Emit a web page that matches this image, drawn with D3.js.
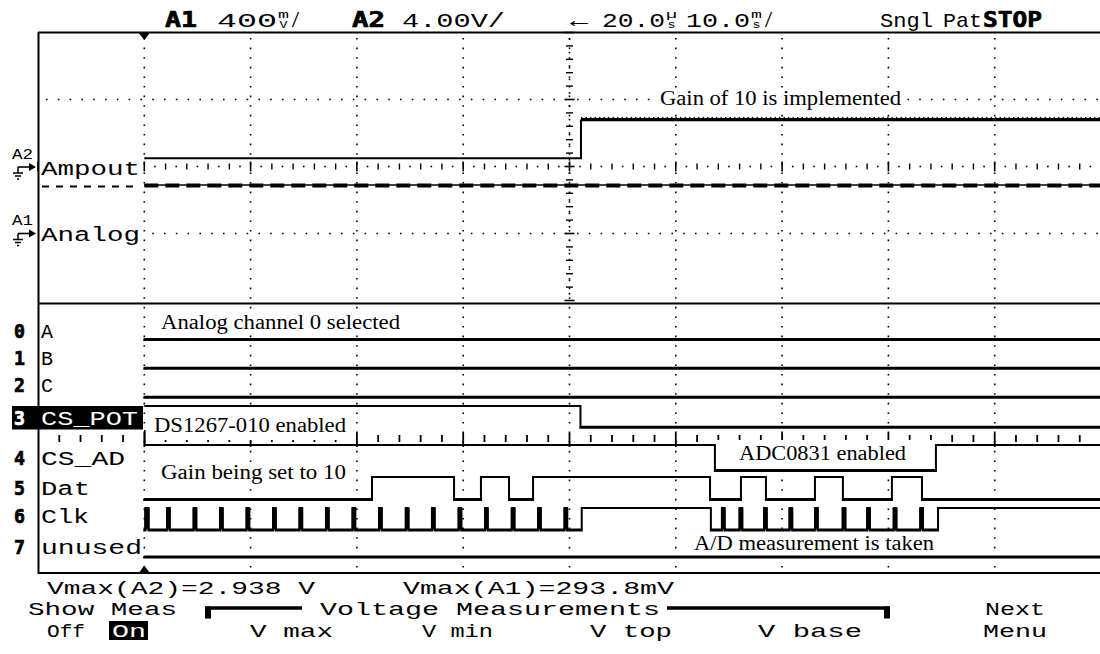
<!DOCTYPE html>
<html><head><meta charset="utf-8">
<script src="https://cdn.jsdelivr.net/npm/d3@7"></script>
<style>body{margin:0;background:#fff}svg{display:block}</style>
</head><body>
<svg id="c" width="1100" height="654"></svg>
<script>
// ---------------- data ----------------
const headerBold = ["A1", "A2", "STOP"];
const headerPlain = ["400", "/", "4.00V/", "\u2190", "20.0", "10.0", "/", "Sngl", "Pat"];
const headerUnits = [["m", "V"], ["\u00b5", "s"], ["m", "s"]];
const analogIds = ["A2", "A1"];
const analogNames = ["Ampout", "Analog"];
// analog traces (time in ms from trigger, volts)
const a2Time = [0, 41.08, 41.08, 90];
const a2Volt = [0.5, 0.5, 2.8, 2.8];
const a1Time = [0, 90];
const a1Volt = [0.29, 0.29];
// logic channels
const channelNums = ["0", "1", "2", "3", "4", "5", "6", "7"];
const channelNames = ["A", "B", "C", "CS_POT", "CS_AD", "Dat", "Clk", "unused"];
const channelStart = [0, 0, 0, 1, 1, 0, 0, 0];
const csPotEdges = [41.03];
const csAdEdges = [53.68, 74.47];
const datEdges = [21.42, 29.14, 31.67, 34.31, 36.57, 53.22, 56.13, 58.48, 63.09, 65.72, 70.33, 73.16];
const clkEdges = [0.10, 0.40, 2.14, 2.39, 4.64, 4.89, 7.12, 7.37, 9.62, 9.87, 12.11, 12.36,
  14.60, 14.85, 17.09, 17.34, 19.59, 19.84, 22.08, 22.33, 24.60, 24.85, 27.06, 27.31,
  29.57, 29.82, 32.05, 32.30, 34.57, 34.82, 37.04, 37.29, 39.53, 39.78, 41.15,
  53.30, 54.34, 54.59, 56.00, 56.25, 58.30, 58.55, 60.70, 60.95, 63.10, 63.35,
  65.70, 65.95, 68.00, 68.25, 70.50, 70.75, 73.00, 73.25, 74.67];
const channelEdges = [[], [], [], csPotEdges, csAdEdges, datEdges, clkEdges, []];
const annotations = ["Gain of 10 is implemented", "Analog channel 0 selected", "DS1267-010 enabled",
  "Gain being set to 10", "ADC0831 enabled", "A/D measurement is taken"];
const measurements = ["Vmax(A2)=2.938 V", "Vmax(A1)=293.8mV"];
const softTop = ["Show Meas", "Voltage Measurements", "Next"];
const softBottom = ["Off", "On", "V max", "V min", "V top", "V base", "Menu"];

// ---------------- layout ----------------
const MONO = "Liberation Mono, DejaVu Sans Mono, monospace";
const MONOB = "DejaVu Sans Mono, Liberation Mono, monospace";
const SERIF = "Liberation Serif, Times New Roman, serif";
const headerBoldPos = [[165, 197], [352, 385], [983, 1042]];
const headerPlainPos = [[217, 277], [291, 300], [402, 505], [570, 588], [602, 665], [686, 750], [764, 773], [880, 933], [943, 982]];
const headerUnitPos = [278, 666, 751];
const rowLow = [339, 367.7, 396.7, 426.7, 470, 499, 529.5, 556.5];
const rowHigh = [317, 345.7, 374.7, 406, 445, 477, 508, 534.5];
const rowLabelBase = [338, 365, 392, 425, 465, 495, 523, 554];
const rowNameEnd = [53, 53, 53, 138, 125, 90, 89, 142];
const annLayout = [ // x0,x1,baseline, bg x0,x1,y0,y1
  [660, 901, 105, 656, 905, 90, 110],
  [161, 400, 329, 157, 404, 312, 334],
  [154, 346, 432, 146, 349, 408, 440],
  [161, 346, 479, 157, 350, 463, 485],
  [739, 906, 460, 717, 934, 440, 468],
  [694, 934, 550, 690, 938, 534, 554]];
const measPos = [[47, 315], [403, 674]];
const softTopPos = [[28, 177], [320, 660], [985, 1045]];
const softBottomPos = [[47, 85], [112, 146], [250, 333], [422, 493], [590, 672], [758, 862], [983, 1047]];
const bottomBase = [594, 615, 637];

// ---------------- scales ----------------
const svg = d3.select("#c");
const x = d3.scaleLinear().domain([-10, 90]).range([38, 1101]);      // 10 ms / div
const div = d3.scaleLinear().domain([-2, 2]).range([300.5, 32.5]);   // analog divisions
const yA2 = d3.scaleLinear().domain([-8, 8]).range([300.5, 32.5]);   // 4.00 V/div
const yA1 = d3.scaleLinear().domain([-0.4, 1.2]).range([300.5, 32.5]); // 400 mV/div

function mono(g, str, x0, x1, base, size, opt = {}) {
  return g.append("text").attr("x", x0).attr("y", base)
    .attr("font-family", opt.bold ? MONOB : MONO).attr("font-size", size)
    .attr("font-weight", opt.bold ? "bold" : "normal")
    .attr("fill", opt.fill || "#000")
    .attr("stroke", opt.bold ? (opt.fill || "#000") : "none").attr("stroke-width", opt.bold ? 0.7 : 0)
    .attr("textLength", x1 - x0).attr("lengthAdjust", "spacingAndGlyphs").text(str);
}

const gGrid = svg.append("g");
const gBg = svg.append("g");
const gTr = svg.append("g");
const gTx = svg.append("g");

// ---------------- grid ----------------
const gridT = x.ticks(10).filter(t => t > -10 && t < 90);
gGrid.selectAll(".vg").data(gridT).join("line")
  .attr("x1", d => x(d)).attr("x2", d => x(d)).attr("y1", 38).attr("y2", 572)
  .attr("stroke", "#000").attr("stroke-width", 1.6).attr("stroke-dasharray", "1.6 8");
gGrid.selectAll(".hg").data([-1, 1]).join("line")
  .attr("x1", 46).attr("x2", 1101).attr("y1", d => div(d)).attr("y2", d => div(d))
  .attr("stroke", "#000").attr("stroke-width", 1.6).attr("stroke-dasharray", "1.6 10.2");
// centre horizontal axis (analog)
d3.range(-10, 91).forEach(t => {
  const xx = x(t), y0 = div(0);
  if (t % 10 === 0) gGrid.append("line").attr("x1", xx).attr("x2", xx).attr("y1", y0 - 5).attr("y2", y0 + 5).attr("stroke", "#000").attr("stroke-width", 1.6);
  else if (t % 2 === 0) gGrid.append("line").attr("x1", xx).attr("x2", xx).attr("y1", y0 - 3).attr("y2", y0 + 3).attr("stroke", "#000").attr("stroke-width", 1.4);
  else gGrid.append("rect").attr("x", xx - 0.8).attr("y", y0 - 0.8).attr("width", 1.6).attr("height", 1.6);
});
// centre vertical axis (analog)
d3.range(-20, 21).forEach(k => {
  const yy = div(k / 10), x0 = x(40);
  if (k % 10 === 0) gGrid.append("line").attr("x1", x0 - 5).attr("x2", x0 + 5).attr("y1", yy).attr("y2", yy).attr("stroke", "#000").attr("stroke-width", 1.6);
  else if (k % 2 === 0) gGrid.append("line").attr("x1", x0 - 3.5).attr("x2", x0 + 3.5).attr("y1", yy).attr("y2", yy).attr("stroke", "#000").attr("stroke-width", 1.4);
  else gGrid.append("rect").attr("x", x0 - 0.8).attr("y", yy - 0.8).attr("width", 1.6).attr("height", 1.6);
});
// digital tick axis
d3.range(-8, 91, 2).forEach(t => {
  const xx = x(t);
  if (t % 10 === 0) gGrid.append("line").attr("x1", xx).attr("x2", xx).attr("y1", 433).attr("y2", 447).attr("stroke", "#000").attr("stroke-width", 1.8);
  else gGrid.append("line").attr("x1", xx).attr("x2", xx).attr("y1", 435).attr("y2", 442).attr("stroke", "#000").attr("stroke-width", 1.8);
});
// frame
gGrid.append("line").attr("x1", 38).attr("x2", 1101).attr("y1", 32.5).attr("y2", 32.5).attr("stroke", "#000").attr("stroke-width", 2);
gGrid.append("line").attr("x1", 38).attr("x2", 1101).attr("y1", 573).attr("y2", 573).attr("stroke", "#000").attr("stroke-width", 2);
gGrid.append("line").attr("x1", 38).attr("x2", 1101).attr("y1", 303.5).attr("y2", 303.5).attr("stroke", "#000").attr("stroke-width", 2);
gGrid.append("line").attr("x1", 38.5).attr("x2", 38.5).attr("y1", 32).attr("y2", 574).attr("stroke", "#000").attr("stroke-width", 2);
// trigger markers
const tx = x(0);
gGrid.append("path").attr("d", `M${tx - 5.5},33 L${tx + 5.5},33 L${tx},40 Z`);
gGrid.append("path").attr("d", `M${tx - 5.5},573 L${tx + 5.5},573 L${tx},565.5 Z`);

// ---------------- analog labels ----------------
const anaBase = [175, 241];
const anaCentre = [167, div(-1)];
const idBase = [159, 225];
analogNames.forEach((n, i) => {
  gBg.append("rect").attr("x", 40).attr("y", anaBase[i] - 15).attr("width", 103).attr("height", 20).attr("fill", "#fff");
  mono(gTx, n, 41, 140, anaBase[i], 20);
  mono(gTx, analogIds[i], 12, 33, idBase[i], 15);
  const yy = anaCentre[i];
  gTx.append("path").attr("d", `M18,${yy} H30`).attr("stroke", "#000").attr("stroke-width", 1.6).attr("fill", "none");
  gTx.append("path").attr("d", `M29,${yy - 4} L36,${yy} L29,${yy + 4} Z`);
  gTx.append("path").attr("d", `M18,${yy} V${yy + 6} M13,${yy + 6} H23 M15,${yy + 9} H21 M17,${yy + 12} H19`).attr("stroke", "#000").attr("stroke-width", 1.5).attr("fill", "none");
});

// ---------------- annotation backgrounds ----------------
annLayout.forEach(l => gBg.append("rect").attr("x", l[3]).attr("y", l[5]).attr("width", l[4] - l[3]).attr("height", l[6] - l[5]).attr("fill", "#fff"));
// left edge of the DS1267 note box
gTr.append("line").attr("x1", x(0) + 0.5).attr("x2", x(0) + 0.5).attr("y1", 430).attr("y2", 445)
  .attr("stroke", "#000").attr("stroke-width", 1.6);

// ---------------- analog traces ----------------
const lineA2 = d3.line().x(d => x(d[0])).y(d => yA2(d[1]));
const a2Pts = a2Time.map((t, i) => [t, a2Volt[i]]);
gTr.append("path").attr("d", lineA2(a2Pts.slice(0, 3)))
  .attr("fill", "none").attr("stroke", "#000").attr("stroke-width", 2);
gTr.append("path").attr("d", lineA2(a2Pts.slice(2)))
  .attr("fill", "none").attr("stroke", "#000").attr("stroke-width", 3.2);
gTr.append("path").attr("d", d3.line().x(d => x(d[0])).y(d => yA2(d[1]) - 2.2)(a2Pts.slice(2)))
  .attr("fill", "none").attr("stroke", "#000").attr("stroke-width", 1).attr("stroke-dasharray", "1.5 3");
const a1Pts = a1Time.map((t, i) => [t, a1Volt[i]]);
const lineA1 = d3.line().x(d => x(d[0])).y(d => yA1(d[1]));
gTr.append("path").attr("d", lineA1(a1Pts))
  .attr("fill", "none").attr("stroke", "#000").attr("stroke-width", 1.6);
gTr.append("path").attr("d", d3.line().x(d => x(d[0])).y(d => yA1(d[1]) + 0.6)(a1Pts))
  .attr("fill", "none").attr("stroke", "#000").attr("stroke-width", 4).attr("stroke-dasharray", "14 7");
// trace continuation marks under the Ampout label
gTr.append("line").attr("x1", 42).attr("x2", 140).attr("y1", yA1(a1Volt[0]) + 1.5).attr("y2", yA1(a1Volt[0]) + 1.5)
  .attr("stroke", "#000").attr("stroke-width", 2).attr("stroke-dasharray", "7 7");

// ---------------- logic traces ----------------
channelNames.forEach((name, i) => {
  let s = channelStart[i];
  const pts = [[0, s]];
  channelEdges[i].forEach(t => { pts.push([t, s]); s = 1 - s; pts.push([t, s]); });
  pts.push([90, s]);
  const yy = d => d[1] ? rowHigh[i] : rowLow[i];
  gTr.append("path").attr("d", d3.line().x(d => x(d[0])).y(yy)(pts))
    .attr("fill", "none").attr("stroke", "#000").attr("stroke-width", 2);
  for (let k = 0; k < pts.length - 1; k++) {
    const a = pts[k], b = pts[k + 1];
    if (a[1] === 0 && b[1] === 0 && b[0] > a[0]) {
      gTr.append("line").attr("x1", x(a[0]) - 1).attr("x2", x(b[0]) + 1)
        .attr("y1", rowLow[i] + 0.8).attr("y2", rowLow[i] + 0.8).attr("stroke", "#000").attr("stroke-width", 2.4);
    }
    // narrow high pulses show as solid bars
    if (a[1] === 1 && b[1] === 1 && b[0] > a[0] && b[0] - a[0] < 0.5) {
      gTr.append("rect").attr("x", x(a[0]) - 1).attr("y", rowHigh[i])
        .attr("width", x(b[0]) - x(a[0]) + 2).attr("height", rowLow[i] - rowHigh[i]);
    }
  }
  const sel = name === "CS_POT";
  if (sel) gTx.append("rect").attr("x", 12).attr("y", 406).attr("width", 131).attr("height", 23.5).attr("fill", "#000");
  mono(gTx, channelNums[i], 14, 25, rowLabelBase[i], 19, { bold: true, fill: sel ? "#fff" : "#000" });
  mono(gTx, name, 41, rowNameEnd[i], rowLabelBase[i], 20, { fill: sel ? "#fff" : "#000" });
});

// ---------------- annotations ----------------
annotations.forEach((a, i) => {
  const l = annLayout[i];
  gTx.append("text").attr("x", l[0]).attr("y", l[2]).attr("font-family", SERIF).attr("font-size", 20)
    .attr("textLength", l[1] - l[0]).attr("lengthAdjust", "spacingAndGlyphs").text(a);
});

// ---------------- header ----------------
headerBold.forEach((t, i) => mono(gTx, t, headerBoldPos[i][0], headerBoldPos[i][1], 26.5, 21, { bold: true }));
headerPlain.forEach((t, i) => mono(gTx, t, headerPlainPos[i][0], headerPlainPos[i][1], 26.5, 21));
headerUnits.forEach((u, i) => {
  gTx.append("text").attr("x", headerUnitPos[i]).attr("y", 18).attr("font-family", MONO).attr("font-size", 11)
    .attr("textLength", 11).attr("lengthAdjust", "spacingAndGlyphs").text(u[0]);
  gTx.append("text").attr("x", headerUnitPos[i] + 1.5).attr("y", 27.5).attr("font-family", MONO).attr("font-size", 10)
    .attr("textLength", 8).attr("lengthAdjust", "spacingAndGlyphs").text(u[1]);
});

// ---------------- bottom menu ----------------
measurements.forEach((m, i) => mono(gTx, m, measPos[i][0], measPos[i][1], bottomBase[0], 19));
softTop.forEach((m, i) => mono(gTx, m, softTopPos[i][0], softTopPos[i][1], bottomBase[1], 19));
gTx.append("rect").attr("x", 109).attr("y", bottomBase[2] - 16).attr("width", 39).attr("height", 19).attr("fill", "#000");
softBottom.forEach((m, i) => mono(gTx, m, softBottomPos[i][0], softBottomPos[i][1], bottomBase[2], 19, { fill: m === "On" ? "#fff" : "#000" }));
const by = bottomBase[1] - 7;
gTx.append("path").attr("d", `M205,${by} H302 M667,${by} H890`).attr("stroke", "#000").attr("stroke-width", 3.5).attr("fill", "none");
gTx.append("rect").attr("x", 205).attr("y", by - 1.5).attr("width", 6).attr("height", 12);
gTx.append("rect").attr("x", 884).attr("y", by - 1.5).attr("width", 6).attr("height", 12);
</script>
</body></html>
